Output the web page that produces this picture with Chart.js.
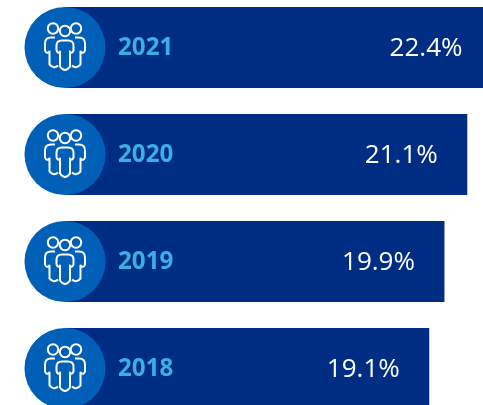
<!DOCTYPE html>
<html><head><meta charset="utf-8">
<script src="https://cdn.jsdelivr.net/npm/chart.js@4"></script>
<style>html,body{margin:0;padding:0;background:#fff;overflow:hidden;width:483px;height:405px}
#w{position:absolute;left:0;top:-6px;width:492px;height:428px}</style></head>
<body><div id="w"><canvas id="c"></canvas></div>
<script>
const years=['2021','2020','2019','2018'];
const shares=[22.4,21.1,19.9,19.1];
const barColor='#002d84', discColor='#0060b8', yearColor='#3aafe3';
function drawIcon(ctx,x,y){
  ctx.save();ctx.translate(x,y);ctx.strokeStyle='#fff';ctx.lineWidth=2;ctx.lineJoin='round';
  const circ=(a,b,r)=>{ctx.beginPath();ctx.arc(a,b,r,0,Math.PI*2);ctx.stroke();};
  circ(-12,-19,5.2);circ(11,-19,5.2);circ(0,-16.5,5.2);
  // centre figure
  ctx.beginPath();ctx.moveTo(-8.5,3);ctx.lineTo(-8.5,-2);ctx.quadraticCurveTo(-8.5,-7,-3,-7);ctx.lineTo(3,-7);ctx.quadraticCurveTo(8.5,-7,8.5,-2);ctx.lineTo(8.5,3);
  ctx.quadraticCurveTo(6.5,7,5,4);ctx.lineTo(5,19);ctx.quadraticCurveTo(0,26,-5,19);ctx.lineTo(-5,4);ctx.quadraticCurveTo(-6.5,7,-8.5,3);ctx.stroke();
  // side figures
  ctx.beginPath();ctx.moveTo(-10,-10);ctx.lineTo(-14,-10);ctx.quadraticCurveTo(-20,-10,-20,-4);ctx.lineTo(-20,3);ctx.quadraticCurveTo(-18.5,7,-15.5,4);ctx.lineTo(-15.5,17);ctx.quadraticCurveTo(-11,22,-7,18);ctx.stroke();
  ctx.beginPath();ctx.moveTo(10,-10);ctx.lineTo(14,-10);ctx.quadraticCurveTo(20,-10,20,-4);ctx.lineTo(20,3);ctx.quadraticCurveTo(18.5,7,15.5,4);ctx.lineTo(15.5,17);ctx.quadraticCurveTo(11,22,7,18);ctx.stroke();
  ctx.restore();
}
const overlay={id:'overlay',afterDatasetsDraw(ch){
  const ctx=ch.ctx,xs=ch.scales.x,ys=ch.scales.y;
  years.forEach((yr,i)=>{
    const x0=xs.getPixelForValue(0)-1,y=ys.getPixelForValue(i);
    ctx.save();
    ctx.fillStyle=discColor;ctx.beginPath();ctx.arc(x0,y,40.5,0,Math.PI*2);ctx.fill();
    drawIcon(ctx,x0,y);
    ctx.textBaseline='middle';
    ctx.font='700 24.2px "Open Sans"';ctx.fillStyle=yearColor;ctx.textAlign='left';
    ctx.fillText(yr,118,y+1);
    ctx.font='400 26px "Open Sans"';ctx.fillStyle='#fff';ctx.textAlign='right';
    ctx.fillText(shares[i].toFixed(1)+'%',xs.getPixelForValue(shares[i])-29.5,y+1);
    ctx.restore();
  });
}};
new Chart(document.getElementById('c'),{
  type:'bar',
  data:{labels:years,datasets:[{data:shares,backgroundColor:barColor,borderWidth:0,categoryPercentage:1,barPercentage:81/107}]},
  options:{indexAxis:'y',responsive:true,maintainAspectRatio:false,animation:false,
    layout:{padding:{left:66,right:0,top:0,bottom:0}},
    plugins:{legend:{display:false},tooltip:{enabled:false}},
    scales:{x:{display:false,min:0,max:22.4},y:{display:false}}},
  plugins:[overlay]
});
</script></body></html>
